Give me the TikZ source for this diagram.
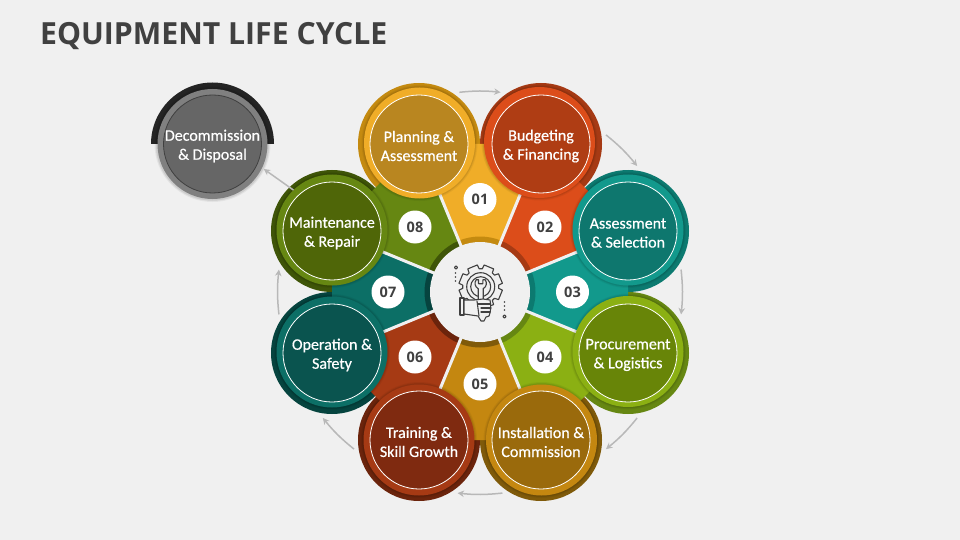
\documentclass[tikz,border=0pt]{standalone}
\usepackage{fontspec}
\setmainfont{Carlito}
\newfontfamily\labelfont{Carlito}[BoldFont=Carlito,BoldFeatures={FakeBold=0.6}]
\newfontfamily\titlefont{Open Sans}
\usetikzlibrary{arrows.meta,calc}
\definecolor{bgc}{HTML}{F0F0F0}
\definecolor{ink}{HTML}{404040}
\definecolor{arrowc}{HTML}{B8B8B8}
\definecolor{wa}{HTML}{F0AD28}\definecolor{wb}{HTML}{DC4D1A}\definecolor{wc}{HTML}{12998C}\definecolor{wd}{HTML}{8BB013}
\definecolor{we}{HTML}{C48710}\definecolor{wf}{HTML}{A63A14}\definecolor{wg}{HTML}{0C6F66}\definecolor{wh}{HTML}{668712}
\definecolor{oa}{HTML}{C48A10}\definecolor{ob}{HTML}{A63A14}\definecolor{oc}{HTML}{0C7A70}\definecolor{od}{HTML}{668712}
\definecolor{oe}{HTML}{7F5A0A}\definecolor{of}{HTML}{6B240C}\definecolor{og}{HTML}{06443F}\definecolor{oh}{HTML}{3F5508}
\definecolor{ia}{HTML}{B98620}\definecolor{ib}{HTML}{AF3D14}\definecolor{ic}{HTML}{0E776E}\definecolor{id}{HTML}{688508}
\definecolor{ie}{HTML}{9A6A0C}\definecolor{if}{HTML}{7F2A10}\definecolor{ig}{HTML}{0A544F}\definecolor{ih}{HTML}{4F6608}
\tikzset{
  x=1pt,y=-1pt,
  outerdisc/.style={circle,fill=#1,minimum size=122pt,inner sep=0pt,outer sep=4.6pt},
  middisc/.style={circle,fill=#1,minimum size=111pt,inner sep=0pt,outer sep=0pt},
  innerdisc/.style={circle,fill=#1,draw=white,line width=0.8pt,minimum size=98pt,inner sep=0pt},
  disclabel/.style={text=white,align=center,inner sep=0pt,yshift=-2pt,
    font=\labelfont\bfseries\fontsize{16}{19}\selectfont},
  badge/.style={circle,fill=white,minimum size=33pt,inner sep=0pt,text=ink,
    font=\titlefont\bfseries\fontsize{14.5}{14.5}\selectfont},
  flow/.style={draw=arrowc,line width=1.5pt,-{Stealth[length=6.5pt,width=6.5pt]}},
  gapline/.style={draw=bgc,line width=3pt},
  icon/.style={draw=ink,line width=1.1pt,line join=round,line cap=round},
}
\begin{document}
\begin{tikzpicture}
\useasboundingbox (0,0) rectangle (960,540);
\fill[bgc] (0,0) rectangle (960,540);
\node[anchor=base west,inner sep=0pt,text=ink,xscale=0.99,font=\titlefont\bfseries\fontsize{30.5}{31}\selectfont] (title) at (40,45) {EQUIPMENT LIFE CYCLE};

\coordinate (hub) at (480,292);
% outer discs
\node[outerdisc=oa] (c1) at (419,144) {};
\node[outerdisc=ob] (c2) at (541,144) {};
\node[outerdisc=oc] (c3) at (628,231) {};
\node[outerdisc=od] (c4) at (628,353) {};
\node[outerdisc=oe] (c5) at (541,440) {};
\node[outerdisc=of] (c6) at (419,440) {};
\node[outerdisc=og] (c7) at (332,353) {};
\node[outerdisc=oh] (c8) at (332,231) {};
% wedges with inner dark band
\foreach \p/\q/\w/\o in {c1/c2/wa/oa,c2/c3/wb/ob,c3/c4/wc/oc,c4/c5/wd/od,c5/c6/we/oe,c6/c7/wf/of,c7/c8/wg/og,c8/c1/wh/oh}{
  \fill[\w] (hub) -- (\p.center) -- (\q.center) -- cycle;
  \begin{scope}
    \clip (hub) -- (\p.center) -- (\q.center) -- cycle;
    \fill[\o] (hub) circle[radius=55.5];
  \end{scope}
}
\foreach \p in {c1,c2,c3,c4,c5,c6,c7,c8}{\draw[gapline] (hub) -- (\p.center);}
\fill[bgc] (hub) circle[radius=50];
% Soft shadows and mid discs
\foreach \p/\m/\sx/\sy/\mc/\ic/\t in {
  c1/m1/0.5/-1/wa/ia/{Planning \&\\Assessment},
  c2/m2/-1.5/-1.5/wb/ib/{Budgeting\\\& Financing},
  c3/m3/0/-1/wc/ic/{Assessment\\\& Selection},
  c4/m4/0/-1.5/wd/id/{Procurement\\\& Logistics},
  c5/m5/0.5/0/we/ie/{Installation \&\\Commission},
  c6/m6/0/0/wf/if/{Training \&\\Skill Growth},
  c7/m7/0/-1/wg/ig/{Operation \&\\Safety},
  c8/m8/0/-1/wh/ih/{Maintenance\\\& Repair}}{
  \foreach \r in {58,57,56.5}{\fill[black,opacity=0.05] ($(\p.center)+(\sx,\sy)$) circle[radius=\r];}
  \node[middisc=\mc] (\m) at ($(\p.center)+(\sx,\sy)$) {};
  \node[innerdisc=\ic] (i\m) at (\p.center) {};
  \node[disclabel] (t\m) at (\p.center) {\t};
}
% Decommission
\coordinate (d) at (212.5,144);
\fill[black!86] (151,144) arc[start angle=180,end angle=360,radius=61.5] -- cycle;
\foreach \r in {58,57,56.5}{\fill[black,opacity=0.05] (d) circle[radius=\r];}
\node[circle,fill=black!50,minimum size=110pt,inner sep=0pt,outer sep=2pt] (m9) at (d) {};
\node[innerdisc=black!60,draw=black!75] (i9) at (d) {};
\node[disclabel] (t9) at (d) {Decommission\\\& Disposal};
% Badges
\node[badge] (b1) at (480,199.5) {01};
\node[badge] (b2) at (545,227) {02};
\node[badge] (b3) at (572.5,292) {03};
\node[badge] (b4) at (545,357) {04};
\node[badge] (b5) at (480,384) {05};
\node[badge] (b6) at (415,357) {06};
\node[badge] (b7) at (388,292) {07};
\node[badge] (b8) at (415,227) {08};
% Arrows
\draw[flow] (c1.52) to[bend left=6] (c2.128);
\draw[flow] (c2.8) to[bend left=6] (c3.82);
\draw[flow] (c3.-36) to[bend left=6] (c4.36);
\draw[flow] (c4.-82) to[bend left=6] (c5.-8);
\draw[flow] (c5.-126) to[bend left=6] (c6.-54);
\draw[flow] (c6.188) to[bend left=6] (c7.262);
\draw[flow] (c7.144) to[bend left=6] (c8.216);
\draw[flow] (m8.134) -- (m9.-26);
% Icon
\begin{scope}[shift={(480.7,286.7)}]
  \draw[icon,fill=bgc] (0:18) 
    \foreach \a in {0,45,...,315}{ -- (\a+5:18) -- (\a+9:22) -- (\a+36:22) -- (\a+40:18) } -- cycle;
  \draw[icon] (0,0) circle[radius=14];
  \draw[icon] (0,0) circle[radius=10];
  \draw[icon,fill=bgc] (-2.5,14) -- (-2.5,2) .. controls (-6,0) and (-6.5,-4) .. (-4.5,-7) -- (-2.2,-7) -- (-2.2,-3) -- (2.2,-3) -- (2.2,-7) -- (4.5,-7) .. controls (6.5,-4) and (6,0) .. (2.5,2) -- (2.5,14);
\end{scope}
\draw[icon,fill=bgc] (460,298) rectangle (464,315);
\draw[icon,fill=bgc] (464,300) -- (474,300) -- (483,299) -- (490,300) .. controls (491,305) and (491,312) .. (489,316) -- (486,317) -- (484,321) -- (481,321) -- (478,316) -- (464,314) -- cycle;
\draw[icon] (478,304) -- (490,304);\draw[icon] (481,308) -- (491,308);\draw[icon] (481,312) -- (490,312);
\draw[icon] (477,301) -- (479,316);
\draw[icon] (456,267.5) circle[radius=1.6];
\draw[icon] (504.5,316.5) circle[radius=1.6];
\foreach \yy in {273,277,281}{\fill[ink] (455.5,\yy) circle[radius=0.8];}
\foreach \yy in {302,306,310}{\fill[ink] (504.5,\yy) circle[radius=0.8];}
\end{tikzpicture}
\end{document}
